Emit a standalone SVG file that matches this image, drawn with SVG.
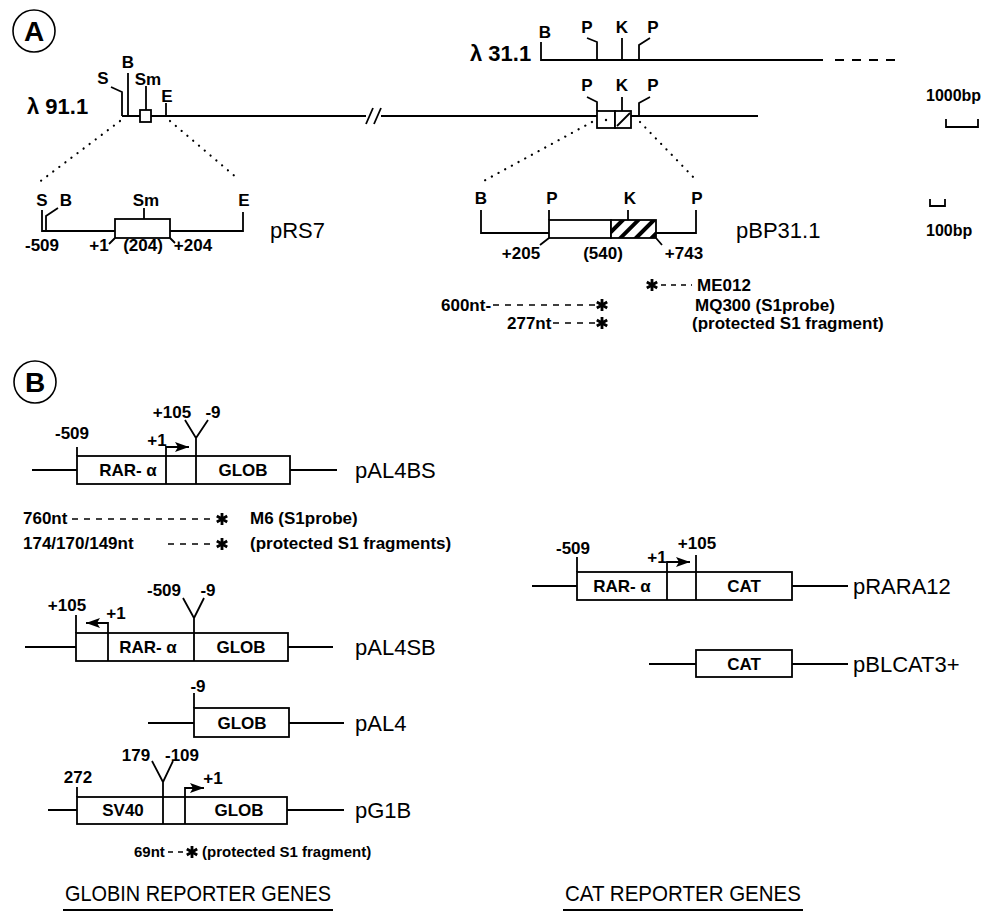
<svg xmlns="http://www.w3.org/2000/svg" xmlns:xlink="http://www.w3.org/1999/xlink" width="992" height="913" viewBox="0 0 992 913">
<style>
.ln{stroke:#000;stroke-width:1.8;fill:none}
.bx{stroke:#000;stroke-width:1.8;fill:#fff}
.dot{stroke:#000;stroke-width:2.2;fill:none;stroke-dasharray:0.1 7.5;stroke-linecap:round}
.dsh{stroke:#000;stroke-width:1.6;fill:none;stroke-dasharray:6 6}
.lb{font-family:"Liberation Sans",Arial,Helvetica,sans-serif;font-weight:bold;font-size:17px;text-anchor:middle;fill:#000}
.lt{font-family:"Liberation Sans",Arial,Helvetica,sans-serif;font-weight:bold;font-size:17px;fill:#000}
.nm{font-family:"Liberation Sans",Arial,Helvetica,sans-serif;font-size:22px;fill:#000}
.lam{font-family:"Liberation Sans",Arial,Helvetica,sans-serif;font-weight:bold;font-size:22px;fill:#000}
.cir{stroke:#000;stroke-width:1.6;fill:#fff}
.ttl{font-family:"Liberation Sans",Arial,Helvetica,sans-serif;font-size:22px;fill:#000}
</style>
<defs>
<marker id="arr" markerUnits="userSpaceOnUse" markerWidth="16" markerHeight="12" refX="14" refY="5" orient="auto">
<path d="M0,0 L14,5 L0,10 L3,5 Z" fill="#000"/>
</marker>
<pattern id="hatch" width="11" height="11" patternUnits="userSpaceOnUse" patternTransform="rotate(45)">
<rect width="11" height="11" fill="#fff"/>
<rect width="4" height="11" fill="#000"/>
</pattern>
<g id="star">
<path d="M0,-6 V6 M-5.2,-3 L5.2,3 M-5.2,3 L5.2,-3" stroke="#000" stroke-width="2.8" fill="none"/>
</g>
</defs>
<rect width="992" height="913" fill="#fff"/>

<!-- Panel labels -->
<g id="panelA">
<circle class="cir" cx="34" cy="31" r="21"/>
<text class="lb" x="34" y="41" style="font-size:28px">A</text>
</g>
<g id="panelB">
<circle class="cir" cx="35" cy="382" r="21"/>
<text class="lb" x="35" y="392" style="font-size:28px">B</text>
</g>

<!-- lambda 91.1 -->
<g id="lambda91">
<text class="lam" x="27" y="114">λ 91.1</text>
<path class="ln" d="M122,116 H366 M381,116 H758"/>
<path class="ln" d="M366,124 L373,108 M374,124 L381,108"/>
<path class="ln" d="M111,87 L122,92 V116"/>
<path class="ln" d="M128,73 V116"/>
<path class="ln" d="M146,86 V110"/>
<rect class="bx" x="140" y="110" width="11" height="12"/>
<path class="ln" d="M166,103 V116"/>
<text class="lb" x="103" y="84">S</text>
<text class="lb" x="128" y="68">B</text>
<text class="lb" x="148" y="85">Sm</text>
<text class="lb" x="167" y="102">E</text>
<path class="ln" d="M587,97 L597,102 V111"/>
<path class="ln" d="M622,97 V111"/>
<path class="ln" d="M650,97 L639,103 V116"/>
<rect class="bx" x="597" y="111" width="18" height="17"/>
<circle cx="606" cy="120" r="1.2" fill="#000"/>
<rect class="bx" x="615" y="111" width="16" height="17"/>
<path class="ln" d="M617,126 L630,113"/>
<text class="lb" x="587" y="91">P</text>
<text class="lb" x="622" y="91">K</text>
<text class="lb" x="653" y="91">P</text>
</g>

<!-- lambda 31.1 -->
<g id="lambda31">
<text class="lam" x="470" y="61">λ 31.1</text>
<path class="ln" d="M541,42 V60 H823"/>
<path class="ln" d="M835,60 H898" style="stroke-dasharray:9 8"/>
<path class="ln" d="M587,38 L597,42 V60"/>
<path class="ln" d="M622,38 V60"/>
<path class="ln" d="M650,38 L639,45 V60"/>
<text class="lb" x="545" y="38">B</text>
<text class="lb" x="587" y="33">P</text>
<text class="lb" x="622" y="33">K</text>
<text class="lb" x="653" y="33">P</text>
</g>

<!-- scale bars -->
<g id="scale1000">
<text class="lt" x="926" y="101" style="font-size:16px">1000bp</text>
<path class="ln" d="M946,119 V127 H978 V119"/>
</g>
<g id="scale100">
<path class="ln" d="M930,199 V206 H945 V199"/>
<text class="lt" x="926" y="236" style="font-size:16px">100bp</text>
</g>

<!-- connectors (expansion dotted lines) -->
<g id="connectors">
<path class="dot" d="M120,121 L38,183"/>
<path class="dot" d="M170,121 L237,178"/>
<path class="dot" d="M592,122 L480,183"/>
<path class="dot" d="M640,122 L698,182"/>
</g>

<!-- pRS7 -->
<g id="pRS7">
<path class="ln" d="M42,210 V231 H115"/>
<path class="ln" d="M58,208 L46,216 V231"/>
<rect class="bx" x="115" y="219" width="55" height="19"/>
<path class="ln" d="M144,208 V219"/>
<path class="ln" d="M170,231 H243 V212"/>
<path class="ln" d="M115,238 L109,244 M170,238 L175,243"/>
<text class="lb" x="42" y="206">S</text>
<text class="lb" x="66" y="206">B</text>
<text class="lb" x="146" y="206">Sm</text>
<text class="lb" x="244" y="206">E</text>
<text class="lb" x="42" y="251">-509</text>
<text class="lb" x="99" y="251">+1</text>
<text class="lb" x="143" y="251">(204)</text>
<text class="lb" x="193" y="251">+204</text>
<text class="nm" x="270" y="238">pRS7</text>
</g>

<!-- pBP31.1 -->
<g id="pBP31">
<path class="ln" d="M481,210 V233 H549"/>
<path class="ln" d="M549,210 V220"/>
<rect class="bx" x="549" y="220" width="62" height="18"/>
<rect x="611" y="220" width="45" height="18" fill="url(#hatch)" stroke="#000" stroke-width="1.8"/>
<path class="ln" d="M628,210 V220"/>
<path class="ln" d="M656,233 H696 V210"/>
<path class="ln" d="M549,238 L540,245 M656,238 L662,245"/>
<text class="lb" x="481" y="204">B</text>
<text class="lb" x="552" y="204">P</text>
<text class="lb" x="630" y="204">K</text>
<text class="lb" x="697" y="204">P</text>
<text class="lb" x="521" y="259">+205</text>
<text class="lb" x="603" y="259">(540)</text>
<text class="lb" x="684" y="259">+743</text>
<text class="nm" x="736" y="238">pBP31.1</text>
</g>

<!-- probes A -->
<g id="probesA">
<use xlink:href="#star" x="652" y="285"/>
<path class="dsh" d="M661,285 H692" style="stroke-dasharray:5 5"/>
<text class="lt" x="697" y="291">ME012</text>
<text class="lt" x="441" y="311">600nt-</text>
<path class="dsh" d="M493,305 H595"/>
<use xlink:href="#star" x="602" y="305"/>
<text class="lt" x="695" y="311">MQ300 (S1probe)</text>
<text class="lt" x="507" y="329">277nt</text>
<path class="dsh" d="M553,323 H595"/>
<use xlink:href="#star" x="602" y="323"/>
<text class="lt" x="692" y="329">(protected S1 fragment)</text>
</g>

<!-- pAL4BS -->
<g id="pAL4BS">
<path class="ln" d="M32,470 H77 M290,470 H337"/>
<rect class="bx" x="77" y="456" width="213" height="28"/>
<path class="ln" d="M166,456 V484 M196,456 V484"/>
<path class="ln" d="M77,447 V456"/>
<path class="ln" d="M166,456 V447 H189" marker-end="url(#arr)"/>
<path class="ln" d="M196,456 V438 L185,420 M196,438 L208,420"/>
<text class="lb" x="72" y="439">-509</text>
<text class="lb" x="157" y="446">+1</text>
<text class="lb" x="172" y="418">+105</text>
<text class="lb" x="213" y="418">-9</text>
<text class="lb" x="128" y="476">RAR- α</text>
<text class="lb" x="243" y="476">GLOB</text>
<text class="nm" x="355" y="478">pAL4BS</text>
</g>

<!-- probes B -->
<g id="probesB">
<text class="lt" x="23" y="524">760nt</text>
<path class="dsh" d="M72,519 H213"/>
<use xlink:href="#star" x="222" y="519"/>
<text class="lt" x="250" y="524">M6  (S1probe)</text>
<text class="lt" x="23" y="549">174/170/149nt</text>
<path class="dsh" d="M168,544 H213"/>
<use xlink:href="#star" x="222" y="544"/>
<text class="lt" x="250" y="549">(protected S1 fragments)</text>
</g>

<!-- pAL4SB -->
<g id="pAL4SB">
<path class="ln" d="M25,647 H76 M288,647 H333"/>
<rect class="bx" x="76" y="633" width="212" height="28"/>
<path class="ln" d="M108,633 V661 M194,633 V661"/>
<path class="ln" d="M76,615 V633"/>
<path class="ln" d="M108,633 V623 H86" marker-end="url(#arr)"/>
<path class="ln" d="M194,633 V618 L183,598 M194,618 L204,598"/>
<text class="lb" x="67" y="611">+105</text>
<text class="lb" x="116" y="619">+1</text>
<text class="lb" x="164" y="596">-509</text>
<text class="lb" x="208" y="596">-9</text>
<text class="lb" x="148" y="653">RAR- α</text>
<text class="lb" x="241" y="653">GLOB</text>
<text class="nm" x="355" y="655">pAL4SB</text>
</g>

<!-- pAL4 -->
<g id="pAL4">
<path class="ln" d="M148,723 H194 M289,723 H344"/>
<rect class="bx" x="194" y="708" width="95" height="29"/>
<path class="ln" d="M194,693 V708"/>
<text class="lb" x="198" y="692">-9</text>
<text class="lb" x="242" y="729">GLOB</text>
<text class="nm" x="355" y="731">pAL4</text>
</g>

<!-- pG1B -->
<g id="pG1B">
<path class="ln" d="M48,810 H77 M287,810 H344"/>
<rect class="bx" x="77" y="797" width="210" height="27"/>
<path class="ln" d="M163,797 V824 M185,797 V824"/>
<path class="ln" d="M77,787 V797"/>
<path class="ln" d="M163,797 V782 L152,761 M163,782 L173,761"/>
<path class="ln" d="M185,797 V788 H204" marker-end="url(#arr)"/>
<text class="lb" x="78" y="783">272</text>
<text class="lb" x="136" y="761">179</text>
<text class="lb" x="182" y="761">-109</text>
<text class="lb" x="213" y="784">+1</text>
<text class="lb" x="123" y="816">SV40</text>
<text class="lb" x="239" y="816">GLOB</text>
<text class="nm" x="355" y="818">pG1B</text>
</g>

<!-- probe G1B -->
<g id="probeG1B">
<text class="lt" x="134" y="857" style="font-size:15px">69nt</text>
<path class="dsh" d="M168,852 H186" style="stroke-dasharray:5 5"/>
<use xlink:href="#star" x="192" y="852"/>
<text class="lt" x="202" y="857" style="font-size:15px">(protected S1 fragment)</text>
</g>

<!-- pRARA12 -->
<g id="pRARA12">
<path class="ln" d="M532,586 H577 M792,586 H848"/>
<rect class="bx" x="577" y="572" width="215" height="28"/>
<path class="ln" d="M667,572 V600 M696,572 V600"/>
<path class="ln" d="M577,557 V572"/>
<path class="ln" d="M696,555 V572"/>
<path class="ln" d="M667,572 V562 H690" marker-end="url(#arr)"/>
<text class="lb" x="573" y="554">-509</text>
<text class="lb" x="657" y="563">+1</text>
<text class="lb" x="697" y="549">+105</text>
<text class="lb" x="622" y="592">RAR- α</text>
<text class="lb" x="744" y="592">CAT</text>
<text class="nm" x="853" y="594">pRARA12</text>
</g>

<!-- pBLCAT3+ -->
<g id="pBLCAT3">
<path class="ln" d="M649,664 H696 M792,664 H848"/>
<rect class="bx" x="696" y="650" width="96" height="27"/>
<text class="lb" x="744" y="670">CAT</text>
<text class="nm" x="853" y="672">pBLCAT3+</text>
</g>

<!-- footers -->
<g id="footers">
<text class="ttl" x="65" y="901" textLength="266" lengthAdjust="spacingAndGlyphs">GLOBIN REPORTER GENES</text>
<path class="ln" d="M63,910 H333"/>
<text class="ttl" x="565" y="901" textLength="236" lengthAdjust="spacingAndGlyphs">CAT REPORTER GENES</text>
<path class="ln" d="M563,910 H803"/>
</g>
</svg>
